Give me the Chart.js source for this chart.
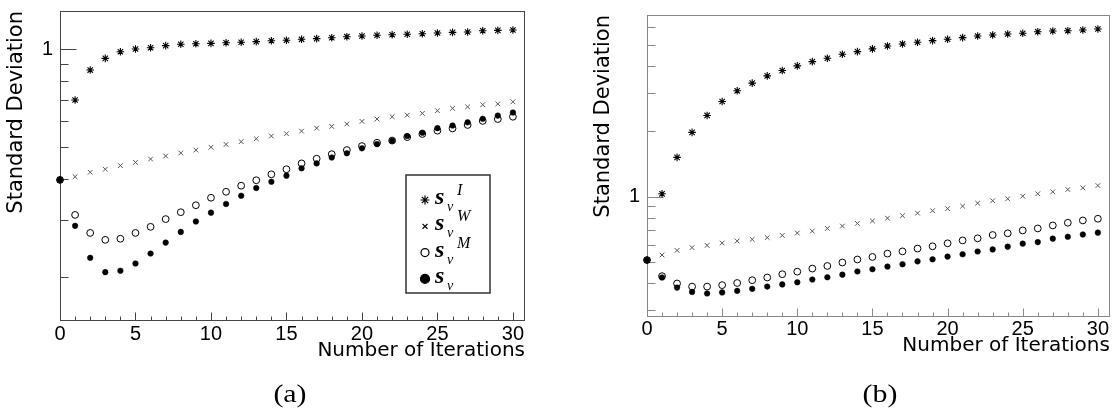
<!DOCTYPE html>
<html>
<head>
<meta charset="utf-8">
<script src="https://cdn.jsdelivr.net/npm/chart.js@4/dist/chart.umd.min.js"></script>
<style>
  html, body { margin: 0; padding: 0; background: #fff; width: 1115px; height: 410px; overflow: hidden; }
  canvas { position: absolute; top: 0; }
  #chartA { left: 0; }
  #chartB { left: 557px; }
  .panel-label {
    position: absolute; width: 60px; text-align: center; line-height: 30px;
    font-family: "Liberation Serif", "Times New Roman", serif; font-size: 26px; color: #000;
    transform: scaleX(1.15);
  }
  #labelA { left: 260px; top: 379px; }
  #labelB { left: 850px; top: 379px; }
</style>
</head>
<body>
<canvas id="chartA" width="557" height="410"></canvas>
<canvas id="chartB" width="558" height="410"></canvas>
<div class="panel-label" id="labelA">(a)</div>
<div class="panel-label" id="labelB">(b)</div>
<script>
// Iteration index on the x axis
const iterations = Array.from({ length: 31 }, (_, i) => i);
const xMajorTicks = [0, 5, 10, 15, 20, 25, 30];
const yLabelTicks = [1];
const yMinorTicksA = [0.2, 0.3, 0.4, 0.5, 0.6, 0.7, 0.8, 0.9];
const yMinorTicksB = [0.3, 0.4, 0.5, 0.6, 0.7, 0.8, 0.9, 2, 3, 4, 5, 6];

// Panel (a)
const sIa = [0.397, 0.698, 0.862, 0.936, 0.981, 1.000, 1.009, 1.024, 1.034, 1.038, 1.041, 1.045, 1.049, 1.054, 1.060, 1.064, 1.071, 1.076, 1.083, 1.091, 1.096, 1.102, 1.106, 1.110, 1.114, 1.120, 1.125, 1.128, 1.138, 1.141, 1.144];
const sWa = [0.397, 0.406, 0.419, 0.428, 0.439, 0.449, 0.460, 0.470, 0.480, 0.490, 0.500, 0.510, 0.520, 0.531, 0.541, 0.550, 0.560, 0.572, 0.579, 0.589, 0.600, 0.610, 0.620, 0.627, 0.635, 0.647, 0.658, 0.665, 0.675, 0.679, 0.689];
const sMa = [0.397, 0.310, 0.273, 0.260, 0.262, 0.273, 0.285, 0.301, 0.316, 0.332, 0.350, 0.365, 0.381, 0.396, 0.413, 0.428, 0.446, 0.461, 0.476, 0.490, 0.504, 0.516, 0.524, 0.537, 0.549, 0.562, 0.571, 0.585, 0.602, 0.610, 0.620];
const sVa = [0.397, 0.287, 0.229, 0.207, 0.209, 0.220, 0.236, 0.255, 0.275, 0.296, 0.315, 0.335, 0.355, 0.375, 0.392, 0.409, 0.431, 0.446, 0.465, 0.479, 0.496, 0.511, 0.523, 0.541, 0.554, 0.572, 0.583, 0.596, 0.611, 0.625, 0.639];

// Panel (b)
const sIb = [0.510, 1.029, 1.514, 1.972, 2.360, 2.736, 3.064, 3.323, 3.590, 3.797, 3.990, 4.175, 4.328, 4.515, 4.640, 4.775, 4.929, 5.034, 5.125, 5.212, 5.290, 5.380, 5.478, 5.536, 5.595, 5.636, 5.732, 5.775, 5.793, 5.837, 5.898];
const sWb = [0.510, 0.538, 0.565, 0.582, 0.596, 0.611, 0.624, 0.635, 0.647, 0.662, 0.679, 0.693, 0.713, 0.731, 0.752, 0.772, 0.795, 0.816, 0.838, 0.860, 0.879, 0.903, 0.932, 0.956, 0.976, 1.003, 1.029, 1.051, 1.077, 1.096, 1.123];
const sMb = [0.510, 0.430, 0.398, 0.385, 0.385, 0.391, 0.400, 0.412, 0.424, 0.439, 0.451, 0.466, 0.479, 0.497, 0.513, 0.527, 0.546, 0.559, 0.576, 0.590, 0.609, 0.628, 0.642, 0.665, 0.677, 0.698, 0.713, 0.736, 0.757, 0.776, 0.790];
const sVb = [0.510, 0.424, 0.381, 0.364, 0.358, 0.362, 0.368, 0.376, 0.385, 0.394, 0.403, 0.415, 0.425, 0.437, 0.452, 0.463, 0.476, 0.488, 0.503, 0.514, 0.529, 0.542, 0.558, 0.571, 0.588, 0.607, 0.617, 0.640, 0.653, 0.669, 0.682];

const legendRows = [
  { sup: 'I', style: 'star', radius: 4.5, fill: '#000', stroke: '#000' },
  { sup: 'W', style: 'crossRot', radius: 3.5, fill: '#000', stroke: '#000' },
  { sup: 'M', style: 'circle', radius: 4, fill: 'rgba(0,0,0,0)', stroke: '#000' },
  { sup: '', style: 'circle', radius: 4.5, fill: '#000', stroke: '#000' }
];

const toPoints = arr => iterations.map((x, k) => ({ x, y: arr[k] }));

// Frame box and inward tick marks drawn from the chart's scales
const frameTicks = {
  id: 'frameTicks',
  beforeDatasetsDraw(chart, args, opts) {
    const { ctx, chartArea: { left, top, right, bottom }, scales: { x, y } } = chart;
    ctx.save();
    ctx.strokeStyle = opts.color;
    ctx.lineWidth = 1;
    const L = Math.round(left) + 0.5, R = Math.round(right) - 0.5;
    const T = Math.round(top) + 0.5, B = Math.round(bottom) - 0.5;
    ctx.strokeRect(L, T, R - L, B - T);
    ctx.beginPath();
    opts.yMinor.forEach(v => {
      const py = Math.round(y.getPixelForValue(v)) + 0.5;
      ctx.moveTo(L, py); ctx.lineTo(L + 8, py);
    });
    yLabelTicks.forEach(v => {
      const py = Math.round(y.getPixelForValue(v)) + 0.5;
      ctx.moveTo(L, py); ctx.lineTo(L + 16, py);
    });
    iterations.forEach(v => {
      const px = Math.round(x.getPixelForValue(v)) + 0.5;
      const len = xMajorTicks.includes(v) ? 8 : 4;
      ctx.moveTo(px, B); ctx.lineTo(px, B - len);
    });
    ctx.stroke();
    ctx.restore();
  }
};

// Boxed key with subscript / superscript labels
const symbolKey = {
  id: 'symbolKey',
  afterDatasetsDraw(chart, args, opts) {
    if (!opts.show) return;
    const { ctx } = chart;
    const bx = 406, by = 175, bw = 84, bh = 118;
    ctx.save();
    ctx.fillStyle = '#fff';
    ctx.fillRect(bx, by, bw, bh);
    ctx.strokeStyle = '#333';
    ctx.lineWidth = 1.5;
    ctx.strokeRect(bx, by, bw, bh);
    legendRows.forEach((row, i) => {
      const ry = by + 25 + i * 26.3;
      ctx.fillStyle = row.fill;
      ctx.strokeStyle = row.stroke;
      ctx.lineWidth = 1.2;
      Chart.helpers.drawPoint(ctx, { pointStyle: row.style, radius: row.radius, borderWidth: 1.2, rotation: 0 }, bx + 19, ry);
      ctx.fillStyle = '#000';
      ctx.textBaseline = 'alphabetic';
      ctx.textAlign = 'left';
      ctx.font = 'bold italic 24px "Liberation Serif"';
      ctx.fillText('s', bx + 29, ry + 4);
      ctx.font = 'italic 14px "Liberation Serif"';
      ctx.fillText('v', bx + 41, ry + 11);
      if (row.sup) {
        ctx.font = 'italic 16px "Liberation Serif"';
        ctx.fillText(row.sup, bx + 51, ry - 5);
      }
    });
    ctx.restore();
  }
};

function makeChart(id, series, cfg) {
  const [sI, sW, sM, sV] = series;
  return new Chart(document.getElementById(id), {
    type: 'scatter',
    data: {
      datasets: [
        { label: 'sv', data: toPoints(sV), order: 0, pointStyle: 'circle', pointRadius: 2.8, backgroundColor: '#000', borderColor: '#000', borderWidth: 0.5, clip: false },
        { label: 'svM', data: toPoints(sM), order: 1, pointStyle: 'circle', pointRadius: 3.4, backgroundColor: 'rgba(0,0,0,0)', borderColor: '#000', borderWidth: 1, clip: false },
        { label: 'svW', data: toPoints(sW), order: 2, pointStyle: 'crossRot', pointRadius: 3.3, backgroundColor: '#555', borderColor: '#555', borderWidth: 1, clip: false },
        { label: 'svI', data: toPoints(sI), order: 3, pointStyle: 'star', pointRadius: 3.8, backgroundColor: '#000', borderColor: '#000', borderWidth: 1.1, clip: false }
      ]
    },
    options: {
      responsive: false,
      animation: false,
      devicePixelRatio: 1,
      events: [],
      layout: { padding: cfg.padding },
      plugins: {
        legend: { display: false },
        tooltip: { enabled: false },
        frameTicks: { color: cfg.frameColor, yMinor: cfg.yMinor },
        symbolKey: { show: cfg.showKey }
      },
      scales: {
        x: {
          type: 'linear', min: 0, max: 30.8,
          afterBuildTicks: s => { s.ticks = xMajorTicks.map(v => ({ value: v })); },
          afterFit: s => { s.height = cfg.xHeight; s.paddingLeft = 0; s.paddingRight = 0; },
          grid: { display: false, drawTicks: false },
          border: { display: false },
          ticks: { color: '#000', padding: cfg.xTickPad, maxRotation: 0, autoSkip: false,
                   font: { family: '"Liberation Sans", Arial, sans-serif', size: 20, lineHeight: 1.2 } },
          title: { display: true, text: 'Number of Iterations', align: 'end', color: '#000', padding: 0,
                   font: { family: '"DejaVu Sans", sans-serif', size: 20, lineHeight: 1.2 } }
        },
        y: {
          type: 'logarithmic', min: cfg.yMin, max: cfg.yMax,
          afterBuildTicks: s => { s.ticks = yLabelTicks.map(v => ({ value: v })); },
          afterFit: s => { s.width = 60; s.paddingTop = 0; s.paddingBottom = 0; },
          grid: { display: false, drawTicks: false },
          border: { display: false },
          ticks: { color: '#000', padding: 7, callback: v => String(v),
                   font: { family: '"Liberation Sans", Arial, sans-serif', size: 20, lineHeight: 1.2 } },
          title: { display: true, text: 'Standard Deviation', align: 'end', color: '#000', padding: { top: 4, bottom: 0 },
                   font: { family: '"DejaVu Sans", sans-serif', size: 21, lineHeight: 1.2 } }
        }
      }
    },
    plugins: [frameTicks, symbolKey]
  });
}

makeChart('chartA', [sIa, sWa, sMa, sVa], {
  padding: { left: 0, top: 11, right: 32, bottom: 47 },
  xHeight: 42, xTickPad: 1,
  yMin: 0.1466, yMax: 1.308,
  yMinor: yMinorTicksA, frameColor: '#444', showKey: true
});

makeChart('chartB', [sIb, sWb, sMb, sVb], {
  padding: { left: 30, top: 15, right: 2, bottom: 52 },
  xHeight: 41, xTickPad: 0,
  yMin: 0.279, yMax: 6.84,
  yMinor: yMinorTicksB, frameColor: '#888', showKey: false
});
</script>
</body>
</html>
